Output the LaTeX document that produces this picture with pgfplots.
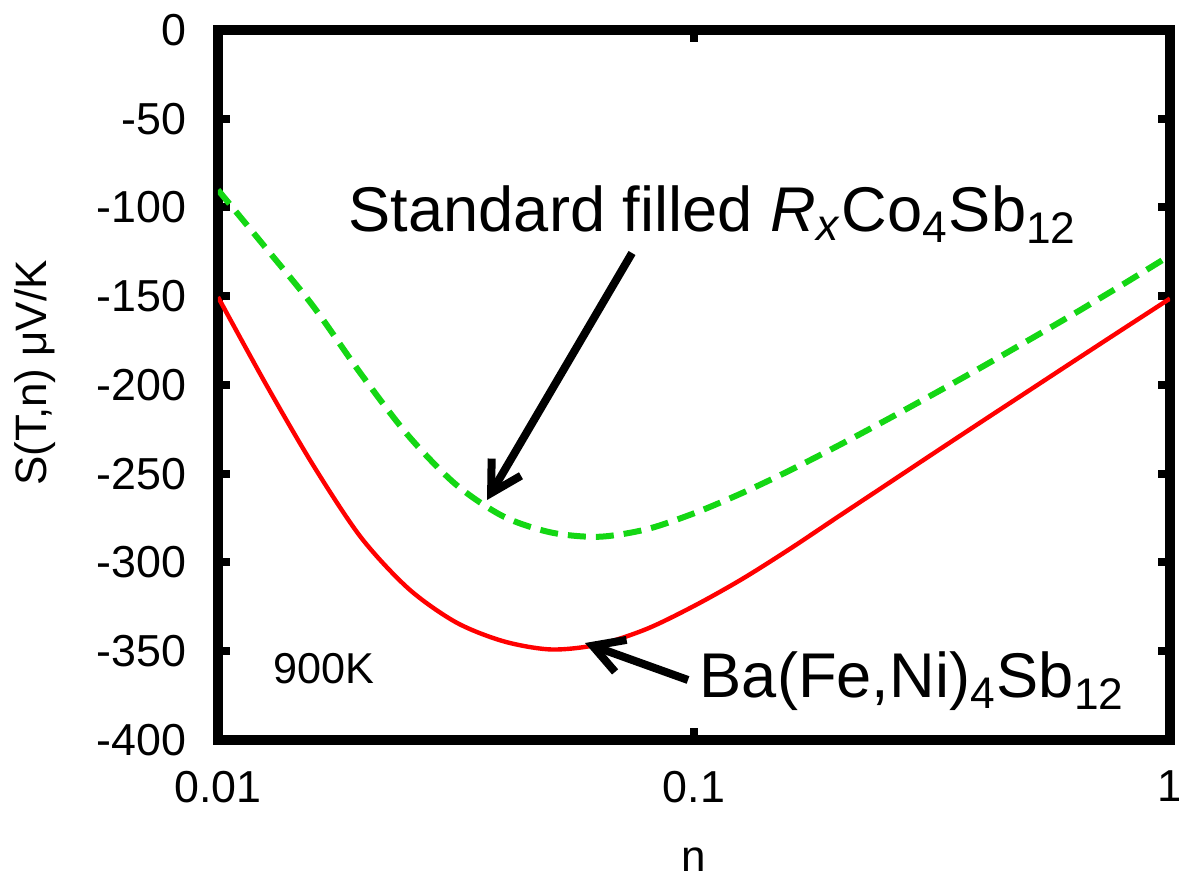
\documentclass[border=0pt]{standalone}
\usepackage{fontspec}
\setmainfont{Liberation Sans}
\usepackage{pgfplots}
\pgfplotsset{compat=1.18}
\usetikzlibrary{arrows.meta}
\definecolor{sgreen}{RGB}{20,215,20}
\definecolor{sred}{RGB}{255,0,0}

\begin{document}
\begin{tikzpicture}
\begin{axis}[
  scale only axis, width=238pt, height=177.5pt,
  xmode=log, xmin=0.01, xmax=1, ymin=-400, ymax=0,
  xtick={0.01,0.1,1}, xticklabels={0.01,0.1,1},
  xminorticks=false, yminorticks=false,
  ytick={-400,-350,-300,-250,-200,-150,-100,-50,0},
  yticklabels={-400,-350,-300,-250,-200,-150,-100,-50,0},
  tick align=inside, major tick length=3pt,
  tick style={black, line width=2pt},
  axis line style={line width=2.5pt},
  ticklabel style={font=\fontsize{11.2}{13}\selectfont},
  xticklabel style={anchor=north, inner sep=0pt, yshift=-7.5pt},
  yticklabel style={anchor=east, inner sep=0pt, xshift=-7.75pt},
  xlabel={n}, ylabel={S(T,n) μV/K},
  label style={font=\fontsize{11}{13}\selectfont},
  xlabel style={at={([yshift=-26.75pt]rel axis cs:0.5,0)}, anchor=north, inner sep=0pt},
  ylabel style={at={([xshift=-42.75pt,yshift=3pt]rel axis cs:0,0.5)}, anchor=base, inner sep=0pt},
  clip mode=individual,
]
\addplot[sgreen, line width=1.5pt, dash pattern=on 4.5pt off 2.5pt, smooth] coordinates {
(0.01,-90.1) (0.012589,-122.6) (0.015849,-155.6) (0.019953,-193.6) (0.025119,-228.6)
(0.031623,-256.1) (0.039811,-274.1) (0.050119,-283.1) (0.063096,-285.5) (0.079433,-281.3)
(0.1,-272.3) (0.12589,-261.0) (0.15849,-248.3) (0.19953,-234.6) (0.25119,-220.3)
(0.31623,-205.6) (0.39811,-190.6) (0.50119,-175.2) (0.63096,-159.6) (0.79433,-143.5) (1,-127.0)
};
\addplot[sred, line width=1.1pt, smooth] coordinates {
(0.01,-150.4) (0.012589,-199.2) (0.015849,-245.2) (0.019953,-285.7) (0.025119,-314.7)
(0.031623,-333.7) (0.039811,-344.4) (0.050119,-349.0) (0.063096,-346.2) (0.079433,-337.5)
(0.1,-324.5) (0.12589,-309.5) (0.15849,-292.6) (0.19953,-274.7) (0.25119,-256.9)
(0.31623,-239.1) (0.39811,-221.4) (0.50119,-203.8) (0.63096,-186.2) (0.79433,-168.7) (1,-151.3)
};
\node[anchor=base west, inner sep=0pt, font=\fontsize{15.8}{18}\selectfont] at (rel axis cs:0.1366,0.7155)
  {Standard filled \textit{R}\textsubscript{\textit{x}}Co\textsubscript{4}Sb\textsubscript{12}};
\node[anchor=base west, inner sep=0pt, font=\fontsize{15.8}{18}\selectfont] at (rel axis cs:0.5053,0.0592)
  {Ba(Fe,Ni)\textsubscript{4}Sb\textsubscript{12}};
\node[anchor=base west, inner sep=0pt, font=\fontsize{10.8}{12}\selectfont] at (rel axis cs:0.0578,0.0789) {900K};
\draw[line width=2pt, -{Straight Barb[length=7.5pt,width=8.5pt]}] (rel axis cs:0.4349,0.6859) -- (rel axis cs:0.2826,0.338);
\draw[line width=2pt, -{Straight Barb[length=7.5pt,width=8.5pt]}] (rel axis cs:0.4937,0.0845) -- (rel axis cs:0.3855,0.1366);
\coordinate (SW) at (rel axis cs:0,0);
\coordinate (NE) at (rel axis cs:1,1);
\end{axis}
\pgfresetboundingbox
\path[use as bounding box] ([xshift=-54.5pt,yshift=-34pt]SW) rectangle ([xshift=2.25pt,yshift=7.5pt]NE);
\end{tikzpicture}
\end{document}
